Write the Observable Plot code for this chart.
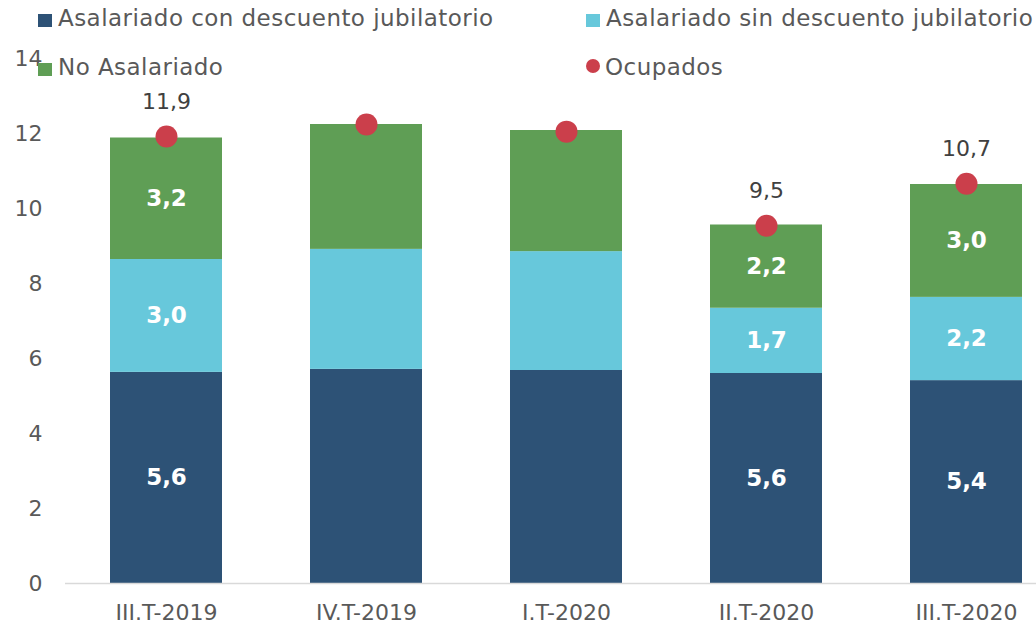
<!DOCTYPE html>
<html>
<head>
<meta charset="utf-8">
<script src="https://cdn.jsdelivr.net/npm/d3@7"></script>
<script src="https://cdn.jsdelivr.net/npm/@observablehq/plot@0.6"></script>
<style>
  html, body { margin: 0; padding: 0; background: #fff; }
  #wrap { position: relative; width: 1036px; height: 626px; font-family: 'DejaVu Sans', Verdana, sans-serif; }
  .lg-text { position: absolute; font-size: 23px; line-height: 23px; letter-spacing: 0.45px; color: #595959; white-space: nowrap; }
  .lg-sw { position: absolute; width: 14px; height: 13px; }
  .lg-dot { position: absolute; width: 14px; height: 14px; border-radius: 50%; }
</style>
</head>
<body>
<div id="wrap"></div>
<script>
const categories = ["III.T-2019", "IV.T-2019", "I.T-2020", "II.T-2020", "III.T-2020"];
const seriesNames = ["Asalariado con descuento jubilatorio", "Asalariado sin descuento jubilatorio", "No Asalariado"];
const totalName = "Ocupados";
const conDescuento = [5.63, 5.71, 5.68, 5.60, 5.41];
const sinDescuento = [3.01, 3.20, 3.17, 1.74, 2.22];
const noAsalariado = [3.24, 3.33, 3.23, 2.22, 3.01];
const ocupados = [11.92, 12.24, 12.05, 9.54, 10.66];
const showSegmentLabels = [true, false, false, true, true];
const showTotalLabels = [true, false, false, true, true];
const yTicks = [0, 2, 4, 6, 8, 10, 12, 14];
const colors = ["#2d5276", "#67c8db", "#5f9e55"];
const dotColor = "#cb3f4b";

const seriesValues = [conDescuento, sinDescuento, noAsalariado];
const rows = categories.flatMap((c, i) => seriesNames.map((s, k) => ({
  cat: c, serie: s, value: seriesValues[k][i], show: showSegmentLabels[i]
})));
const totals = categories.map((c, i) => ({ cat: c, value: ocupados[i], show: showTotalLabels[i] }));
const fmt = v => v.toFixed(1).replace(".", ",");

const chart = Plot.plot({
  width: 1036,
  height: 626,
  marginTop: 58,
  marginBottom: 43,
  marginLeft: 65,
  marginRight: 0,
  style: { fontFamily: "'DejaVu Sans', Verdana, sans-serif", fontSize: "22px", color: "#595959", background: "#fff", overflow: "visible" },
  x: { domain: categories, range: [65, 1066], paddingInner: 0.44, paddingOuter: 0.215, label: null, tickSize: 0, tickPadding: 21 },
  y: { domain: [0, 14], ticks: yTicks, label: null, tickSize: 0, tickPadding: 23 },
  color: { domain: seriesNames, range: colors },
  marks: [
    Plot.barY(rows, { x: "cat", y: "value", fill: "serie", order: seriesNames }),
    Plot.text(rows, Plot.stackY({ x: "cat", y: "value", z: "serie", order: seriesNames,
      text: d => d.show ? fmt(d.value) : "", fill: "white", fontWeight: "bold", fontSize: 23 })),
    Plot.ruleY([0], { stroke: "#d9d9d9", strokeWidth: 1.5 }),
    Plot.dot(totals, { x: "cat", y: "value", r: 11, fill: dotColor }),
    Plot.text(totals, { x: "cat", y: "value", text: d => d.show ? fmt(d.value) : "", dy: -35, fill: "#404040", fontSize: 22 })
  ]
});

const wrap = document.getElementById("wrap");
wrap.appendChild(chart);

const legendItems = [
  { label: seriesNames[0], color: colors[0], shape: "sq", x: 38, y: 7 },
  { label: seriesNames[1], color: colors[1], shape: "sq", x: 586, y: 7 },
  { label: seriesNames[2], color: colors[2], shape: "sq", x: 38, y: 56 },
  { label: totalName, color: dotColor, shape: "dot", x: 586, y: 56 }
];
legendItems.forEach(it => {
  const sw = document.createElement("div");
  sw.className = it.shape === "sq" ? "lg-sw" : "lg-dot";
  sw.style.background = it.color;
  sw.style.left = it.x + "px";
  sw.style.top = (it.y + (it.shape === "sq" ? 7 : 3)) + "px";
  wrap.appendChild(sw);
  const t = document.createElement("div");
  t.className = "lg-text";
  t.textContent = it.label;
  t.style.left = (it.x + (it.shape === "sq" ? 20 : 19)) + "px";
  t.style.top = it.y + "px";
  wrap.appendChild(t);
});
</script>
</body>
</html>
